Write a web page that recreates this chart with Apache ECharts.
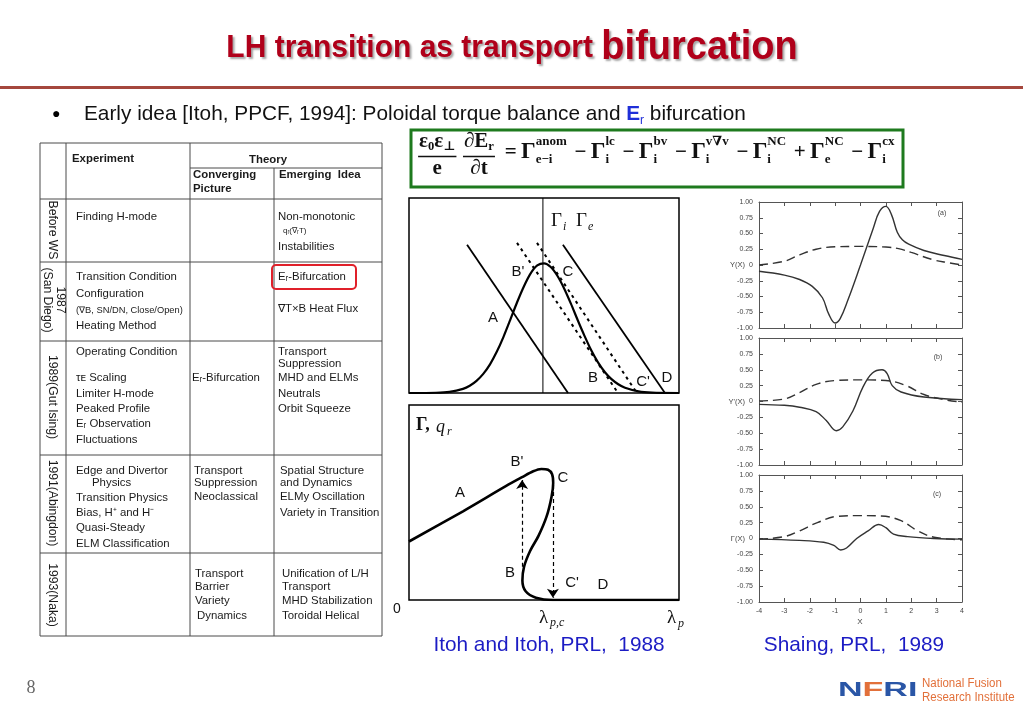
<!DOCTYPE html>
<html><head><meta charset="utf-8">
<script src="https://cdn.jsdelivr.net/npm/echarts@6/dist/echarts.min.js"></script>
<style>html,body{margin:0;padding:0;background:#fff;}#c{width:1023px;height:708px;}</style>
</head><body><div id="c"></div>
<script>
// ---------- data (Itoh & Itoh sketch, abstract units x 0..10, y 0..1) ----------
const itohGauss = [[0,0],[1,0.0014],[1.5,0.006],[2,0.021],[2.25,0.037],[2.5,0.062],[2.75,0.098],[3,0.147],[3.25,0.211],[3.5,0.288],[3.75,0.375],[4,0.464],[4.25,0.545],[4.5,0.612],[4.75,0.654],[5,0.665],[5.25,0.646],[5.5,0.6],[5.75,0.535],[6,0.457],[6.25,0.373],[6.5,0.293],[6.75,0.219],[7,0.157],[7.25,0.108],[7.5,0.071],[7.75,0.045],[8,0.027],[8.5,0.0086],[9,0.0023],[10,0]];
const itohLineA = [[2.15,0.76],[5.89,0]];
const itohDot1 = [[4.0,0.77],[7.74,0]];
const itohDot2 = [[4.74,0.77],[8.44,0]];
const itohLineD = [[5.7,0.76],[9.48,0]];
const itohVertical = [[4.96,0],[4.96,1]];
const itohSCurve = [[0,0.3],[2,0.455],[3.6,0.585],[4.19,0.63],[4.6,0.66],[4.9,0.672],[5.15,0.668],[5.3,0.645],[5.34,0.6],[5.28,0.53],[5.1,0.43],[4.8,0.33],[4.48,0.25],[4.26,0.17],[4.2,0.1],[4.32,0.045],[4.7,0.012],[5.33,0],[10,0]];
const itohArrowUp = [[4.19,0.17],[4.19,0.615]];
const itohArrowDown = [[5.33,0.59],[5.33,0.012]];

// ---------- data (Shaing, PRL 1989) ----------
const aSolid = [[-4,-0.1],[-3,-0.16],[-2.4,-0.23],[-1.9,-0.34],[-1.5,-0.52],[-1.25,-0.78],[-1,-0.92],[-0.8,-0.85],[-0.5,-0.56],[0,0],[0.5,0.58],[0.75,0.85],[1,0.93],[1.22,0.8],[1.45,0.52],[1.65,0.4],[1.9,0.33],[2.5,0.23],[3.3,0.15],[4,0.09]];
const aDash = [[-4,0],[-3,0.06],[-2.4,0.16],[-1.75,0.25],[-1,0.29],[0,0.295],[1,0.285],[1.5,0.26],[2,0.2],[2.8,0.09],[3.4,0.04],[4,0]];
const bSolid = [[-4,-0.045],[-3,-0.06],[-2.4,-0.09],[-1.75,-0.16],[-1.35,-0.3],[-0.95,-0.46],[-0.7,-0.4],[-0.3,-0.15],[0.1,0.23],[0.47,0.45],[0.85,0.5],[1.05,0.44],[1.25,0.25],[1.6,0.15],[2.5,0.07],[4,0.03]];
const bDash = [[-4,0.01],[-3,0.04],[-2.4,0.14],[-1.75,0.27],[-1,0.33],[0,0.34],[1,0.33],[1.8,0.25],[2.5,0.11],[3.3,0.03],[4,-0.01]];
const cSolid = [[-4,-0.01],[-2.4,-0.03],[-1.45,-0.06],[-1.05,-0.11],[-0.78,-0.18],[-0.55,-0.15],[-0.15,0],[0.3,0.12],[0.72,0.22],[1,0.17],[1.3,0.07],[1.85,0.03],[2.9,0],[4,-0.01]];
const cDash = [[-4,-0.01],[-3,0.03],[-2.4,0.12],[-1.7,0.25],[-0.9,0.35],[0,0.36],[0.8,0.355],[1.6,0.28],[2.25,0.12],[2.9,0.02],[4,-0.02]];
const shaingYNames = ['Y(X)', "Y'(X)", 'Γ(X)'];
const shaingPanelTags = ['(a)','(b)','(c)'];

// ---------- table text ----------
const tableHeader = [[72,159,'Experiment'],[249,160,'Theory'],[193,175,'Converging'],[193,189,'Picture'],[279,175,'Emerging  Idea']];
const tableBody = [
 [76,217,'Finding H-mode'],[278,217,'Non-monotonic'],[283,231,'qᵣ(∇ᵣT)',8],[278,247,'Instabilities'],
 [76,277,'Transition Condition'],[76,294,'Configuration'],[76,310,'(∇B, SN/DN, Close/Open)',9.3],[76,326,'Heating Method'],[278,277,'Eᵣ-Bifurcation'],[278,309,'∇T×B Heat Flux'],
 [76,352,'Operating Condition'],[76,378,'τᴇ Scaling'],[76,394,'Limiter H-mode'],[76,409,'Peaked Profile'],[76,424,'Eᵣ Observation'],[76,440,'Fluctuations'],[192,378,'Eᵣ-Bifurcation'],[278,352,'Transport'],[278,364,'Suppression'],[278,378,'MHD and ELMs'],[278,394,'Neutrals'],[278,409,'Orbit Squeeze'],
 [76,471,'Edge and Divertor'],[92,483,'Physics'],[76,498,'Transition Physics'],[76,513,'Bias, H⁺ and H⁻'],[76,528,'Quasi-Steady'],[76,544,'ELM Classification'],[194,471,'Transport'],[194,483,'Suppression'],[194,497,'Neoclassical'],[280,471,'Spatial Structure'],[280,483,'and Dynamics'],[280,497,'ELMy Oscillation'],[280,513,'Variety in Transition'],
 [195,574,'Transport'],[195,587,'Barrier'],[195,601,'Variety'],[197,616,'Dynamics'],[282,574,'Unification of L/H'],[282,587,'Transport'],[282,601,'MHD Stabilization'],[282,616,'Toroidal Helical']
];
const tableRowLabels = [[52,230,'Before WS'],[54,300,'1987\n(San Diego)'],[52,397,'1989(Gut Ising)'],[52,503,'1991(Abingdon)'],[52,595,'1993(Naka)']];

// ---------- helpers ----------
const SANS = '"Liberation Sans", Arial, Helvetica, sans-serif';
const SERIF = '"Liberation Serif", "Times New Roman", "DejaVu Serif", serif';
const meas = document.createElement('canvas').getContext('2d');
function mw(s, size, fam, weight){ meas.font = (weight||'normal')+' '+size+'px '+fam; return meas.measureText(s).width; }
function txt(x,y,text,st,props){
  return Object.assign({type:'text', x:x, y:y, silent:true, z:10,
    style:Object.assign({text:text, fontSize:11, fontFamily:SANS, fill:'#222', textAlign:'left', textVerticalAlign:'middle', verticalAlign:'middle'}, st||{})}, props||{});
}
function ln(x1,y1,x2,y2,c,w){ return {type:'line', silent:true, z:5, shape:{x1:x1,y1:y1,x2:x2,y2:y2}, style:{stroke:c||'#444', lineWidth:w||1}}; }

const G = [];
// title
const tsh = {textShadowColor:'rgba(0,0,0,0.35)',textShadowBlur:2,textShadowOffsetX:2,textShadowOffsetY:2};
G.push(txt(512,48,'{a|LH transition as transport }{b|bifurcation}',{
  textAlign:'center', rich:{
   a:Object.assign({fontSize:30,fontWeight:'bold',fontFamily:SANS,fill:'#b0001a'},tsh),
   b:Object.assign({fontSize:38,fontWeight:'bold',fontFamily:SANS,fill:'#b0001a'},tsh)}
},{scaleY:1.05}));
G.push(ln(0,87.5,1023,87.5,'#a5473d',3));
// bullet line
G.push(txt(52,114,'●',{fontSize:14,fill:'#000'}));
const BF = 20.8;
const bPre = 'Early idea [Itoh, PPCF, 1994]: Poloidal torque balance and ';
let bx = 84;
G.push(txt(bx,114,bPre,{fontSize:BF,fill:'#111'}));
bx += mw(bPre,BF,SANS);
G.push(txt(bx,114,'E',{fontSize:BF,fontWeight:'bold',fill:'#1f2fd8'}));
bx += mw('E',BF,SANS,'bold');
G.push(txt(bx,121,'r',{fontSize:12,fill:'#1f2fd8'}));
bx += mw('r',12,SANS);
G.push(txt(bx,114,' bifurcation',{fontSize:BF,fill:'#111'}));

// equation box
G.push({type:'rect', silent:true, shape:{x:411,y:130,width:492,height:57}, style:{fill:'none',stroke:'#1e7a1e',lineWidth:3}});
const eqParts = [
 {k:'frac', num:[['ε',1],['0',0.6,1],['ε',1],['⊥',0.6,1]], den:[['e',1]]},
 {k:'frac', num:[['∂E',1],['r',0.6,1]], den:[['∂t',1]]},
 {k:'op', t:'='},
 {k:'g', sup:'anom', sub:'e−i'},
 {k:'op', t:'−'},{k:'g', sup:'lc', sub:'i'},
 {k:'op', t:'−'},{k:'g', sup:'bv', sub:'i'},
 {k:'op', t:'−'},{k:'g', sup:'v∇v', sub:'i'},
 {k:'op', t:'−'},{k:'g', sup:'NC', sub:'i'},
 {k:'op', t:'+'},{k:'g', sup:'NC', sub:'e'},
 {k:'op', t:'−'},{k:'g', sup:'cx', sub:'i'}
];
const EW = 'bold';
function seqW(seq,S){ return seq.reduce((a,q)=>a+mw(q[0],q[1]*S,SERIF,EW),0); }
function partW(p,S){
  if(p.k==='frac') return Math.max(seqW(p.num,S), seqW(p.den,S)) + 0.2*S;
  if(p.k==='op') return mw(p.t,S,SERIF,EW) + 0.2*S;
  return mw('Γ',S,SERIF,EW) + Math.max(mw(p.sup,0.62*S,SERIF,EW), mw(p.sub,0.62*S,SERIF,EW)) + 0.02*S;
}
const S = 21;
const tot = eqParts.reduce((a,p)=>a+partW(p,S),0);
const extra = Math.max(0,(481 - tot)/eqParts.length);
let ex = 417;
const EQC = '#111';
eqParts.forEach(p=>{
  const w = partW(p,S) + extra;
  if(p.k==='frac'){
    const nw = seqW(p.num,S), dw = seqW(p.den,S), cx = ex + w/2 - extra/2;
    let xx = cx - nw/2;
    p.num.forEach(q=>{ G.push(txt(xx, q[2]?147:142, q[0], {fontSize:q[1]*S, fontFamily:SERIF, fontWeight:EW, fill:EQC})); xx += mw(q[0],q[1]*S,SERIF,EW); });
    G.push(ln(cx-Math.max(nw,dw)/2-1, 156.5, cx+Math.max(nw,dw)/2+1, 156.5, EQC, 1.5));
    xx = cx - dw/2;
    p.den.forEach(q=>{ G.push(txt(xx, 169, q[0], {fontSize:q[1]*S, fontFamily:SERIF, fontWeight:EW, fill:EQC})); xx += mw(q[0],q[1]*S,SERIF,EW); });
  } else if(p.k==='op'){
    G.push(txt(ex+0.1*S+extra/2, 153, p.t, {fontSize:S, fontFamily:SERIF, fontWeight:EW, fill:EQC}));
  } else {
    G.push(txt(ex, 152, 'Γ', {fontSize:S*1.1, fontFamily:SERIF, fontWeight:EW, fill:EQC}));
    const gx = ex + mw('Γ',S*1.1,SERIF,EW);
    G.push(txt(gx, 142, p.sup, {fontSize:0.62*S, fontFamily:SERIF, fontWeight:EW, fill:EQC}));
    G.push(txt(gx, 160, p.sub, {fontSize:0.62*S, fontFamily:SERIF, fontWeight:EW, fill:EQC}));
  }
  ex += w;
});

// table grid
const tc = '#4a4a4a';
[143,199,262,341,455,553,636].forEach(y=>G.push(ln(40,y,382,y,tc,1)));
G.push(ln(190,168,382,168,tc,1));
[40,66,190,382].forEach(x=>G.push(ln(x,143,x,636,tc,1)));
G.push(ln(274,168,274,636,tc,1));
const TF = 11.4;
tableHeader.forEach(r=>G.push(txt(r[0],r[1],r[2],{fontWeight:'bold',fontSize:TF,fill:'#1a1a1a'})));
tableBody.forEach(r=>G.push(txt(r[0],r[1],r[2],{fontSize:r[3]||TF,fill:'#1a1a1a'})));
tableRowLabels.forEach(r=>G.push(txt(r[0],r[1],r[2],{fontSize:12.2,fill:'#1a1a1a',textAlign:'center',lineHeight:12.5},{rotation:-Math.PI/2})));
G.push({type:'rect', silent:true, z:11, shape:{x:272,y:265,width:84,height:24,r:4}, style:{fill:'none',stroke:'#e0202a',lineWidth:2}});

// Itoh labels
const lab = {fontSize:15, fill:'#111', textAlign:'center'};
[[518,272,"B'"],[568,272,'C'],[493,318,'A'],[593,378,'B'],[643,382,"C'"],[667,378,'D']].forEach(r=>G.push(txt(r[0],r[1],r[2],lab)));
[[517,462,"B'"],[563,478,'C'],[460,493,'A'],[510,573,'B'],[572,583,"C'"],[603,585,'D']].forEach(r=>G.push(txt(r[0],r[1],r[2],lab)));
G.push(txt(551,221,'Γ',{fontSize:19,fontFamily:SERIF,fill:'#111'}));
G.push(txt(563,227,'i',{fontSize:12,fontFamily:SERIF,fontStyle:'italic',fill:'#111'}));
G.push(txt(576,221,'Γ',{fontSize:19,fontFamily:SERIF,fill:'#111'}));
G.push(txt(588,227,'e',{fontSize:12,fontFamily:SERIF,fontStyle:'italic',fill:'#111'}));
G.push(txt(416,425,'Γ,',{fontSize:18,fontFamily:SERIF,fontWeight:'bold',fill:'#111'}));
G.push(txt(436,427,'q',{fontSize:18,fontFamily:SERIF,fontStyle:'italic',fill:'#111'}));
G.push(txt(447,432,'r',{fontSize:12,fontFamily:SERIF,fontStyle:'italic',fill:'#111'}));
G.push(txt(397,609,'0',{fontSize:14,fontFamily:SANS,fill:'#111',textAlign:'center'}));
G.push(txt(539,618,'λ',{fontSize:19,fontFamily:SERIF,fill:'#111'}));
G.push(txt(550,623,'p,c',{fontSize:12,fontFamily:SERIF,fontStyle:'italic',fill:'#111'}));
G.push(txt(667,618,'λ',{fontSize:19,fontFamily:SERIF,fill:'#111'}));
G.push(txt(678,624,'p',{fontSize:12,fontFamily:SERIF,fontStyle:'italic',fill:'#111'}));

// Shaing labels
const shTops = [202,338,475], shH = [126,127,127];
shaingYNames.forEach((n,i)=>G.push(txt(745, shTops[i]+shH[i]/2, n, {fontSize:7.5, fill:'#444', textAlign:'right'})));
[[942,213],[938,357],[937,494]].forEach((p,i)=>G.push(txt(p[0],p[1],shaingPanelTags[i],{fontSize:7,fill:'#444',textAlign:'center'})));
G.push(txt(860,622,'X',{fontSize:8,fill:'#444',textAlign:'center'}));

// captions, page number, logo
G.push(txt(549,645,'Itoh and Itoh, PRL,  1988',{fontSize:20.8,fill:'#1c1cc4',textAlign:'center'}));
G.push(txt(854,645,'Shaing, PRL,  1989',{fontSize:20.8,fill:'#1c1cc4',textAlign:'center'}));
G.push(txt(31,688,'8',{fontSize:18,fontFamily:SERIF,fill:'#666',textAlign:'center'}));
G.push(txt(838,690,'{b|N}{o|F}{b|RI}',{rich:{b:{fontSize:21,fontWeight:'bold',fontFamily:SANS,fill:'#2a56a6'},o:{fontSize:21,fontWeight:'bold',fontFamily:SANS,fill:'#e2703a'}}},{scaleX:1.62}));
G.push(txt(922,683,'National Fusion',{fontSize:11.5,fill:'#e2703a'},{scaleY:1.15}));
G.push(txt(922,697,'Research Institute',{fontSize:11.5,fill:'#e2703a'},{scaleY:1.15}));

// ---------- axes ----------
const hid = {show:false};
const axC = '#555';
const xAxes = [
  {type:'value', gridIndex:0, min:0, max:10, show:false},
  {type:'value', gridIndex:1, min:0, max:10, show:false}
];
const yAxes = [
  {type:'value', gridIndex:0, min:0, max:1, show:false},
  {type:'value', gridIndex:1, min:0, max:1, show:false}
];
const axLine = {show:true, onZero:false, lineStyle:{color:axC,width:1}};
const axTick = {show:true, inside:true, length:4, lineStyle:{color:axC}};
for(let i=0;i<3;i++){
  xAxes.push({type:'value', gridIndex:2+i, min:-4, max:4, interval:1, position:'bottom',
    axisLine:axLine, axisTick:axTick,
    axisLabel:{show:i===2, fontSize:7, color:'#444', margin:6, fontFamily:SANS}, splitLine:hid});
  yAxes.push({type:'value', gridIndex:2+i, min:-1, max:1, interval:0.25, position:'left',
    axisLine:axLine, axisTick:axTick,
    axisLabel:{show:true, fontSize:7, color:'#444', margin:6, fontFamily:SANS, formatter:v=>v===0?'0':v.toFixed(2)}, splitLine:hid});
}
for(let i=0;i<3;i++){
  xAxes.push({type:'value', gridIndex:2+i, min:-4, max:4, interval:1, position:'top',
    axisLine:axLine, axisTick:axTick, axisLabel:hid, splitLine:hid});
  yAxes.push({type:'value', gridIndex:2+i, min:-1, max:1, interval:0.25, position:'right',
    axisLine:axLine, axisTick:axTick, axisLabel:hid, splitLine:hid});
}

function L(data, xi, yi, ls, smooth){
  return {type:'line', xAxisIndex:xi, yAxisIndex:yi, data:data, symbol:'none', smooth:smooth||false,
    lineStyle:Object.assign({color:'#000', width:2}, ls), silent:true, z:3};
}
const series = [
  L(itohGauss,0,0,{width:2.2},0.25),
  L(itohLineA,0,0,{width:1.8}),
  L(itohLineD,0,0,{width:1.8}),
  L(itohDot1,0,0,{width:2,type:[3,4]}),
  L(itohDot2,0,0,{width:2,type:[3,4]}),
  L(itohVertical,0,0,{width:1}),
  L(itohSCurve,1,1,{width:2.6},0.3),
  {type:'lines', coordinateSystem:'cartesian2d', xAxisIndex:1, yAxisIndex:1, symbol:['none','arrow'], symbolSize:9, silent:true, z:4,
   lineStyle:{color:'#000', width:1.2, type:[4,3], opacity:1}, data:[{coords:itohArrowUp},{coords:itohArrowDown}]},
  L(aSolid,2,2,{width:1.4,color:'#333'},0.4),
  L(aDash,2,2,{width:1.4,color:'#333',type:[9,5]},0.4),
  L(bSolid,3,3,{width:1.4,color:'#333'},0.4),
  L(bDash,3,3,{width:1.4,color:'#333',type:[9,5]},0.4),
  L(cSolid,4,4,{width:1.4,color:'#333'},0.4),
  L(cDash,4,4,{width:1.4,color:'#333',type:[9,5]},0.4)
];

const chart = echarts.init(document.getElementById('c'));
chart.setOption({
  animation:false,
  backgroundColor:'#fff',
  grid:[
    {left:409, top:198, width:270, height:195, show:true, borderColor:'#000', borderWidth:1.5, backgroundColor:'transparent'},
    {left:409, top:405, width:270, height:195, show:true, borderColor:'#000', borderWidth:1.5, backgroundColor:'transparent'},
    {left:759, top:shTops[0], width:203, height:shH[0]},
    {left:759, top:shTops[1], width:203, height:shH[1]},
    {left:759, top:shTops[2], width:203, height:shH[2]}
  ],
  xAxis:xAxes, yAxis:yAxes, series:series, graphic:G
});
</script></body></html>
